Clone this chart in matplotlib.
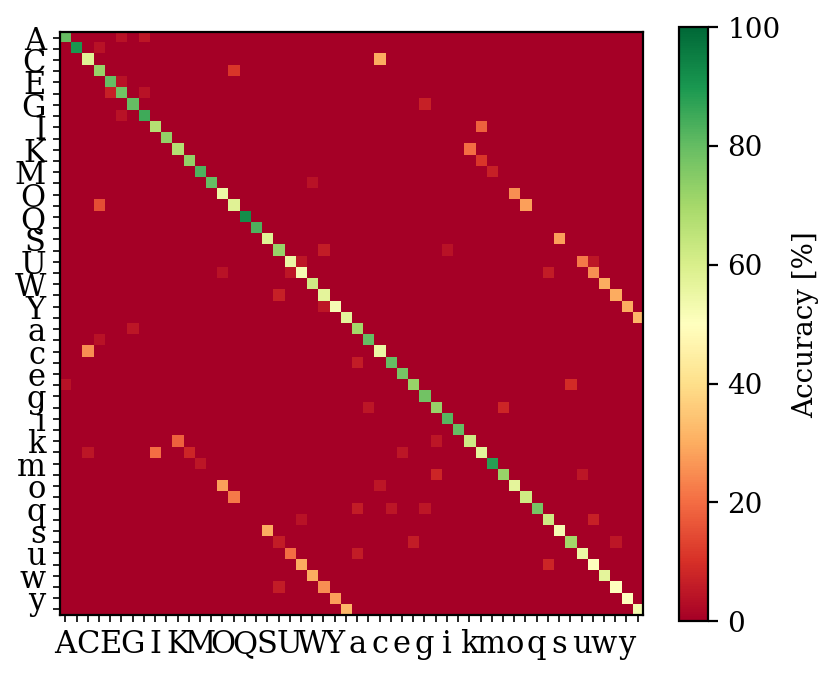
import string
import numpy as np
import matplotlib
matplotlib.use("Agg")
import matplotlib.pyplot as plt

plt.rcParams['font.family'] = 'DejaVu Serif'
plt.rcParams['font.size'] = 10

# class labels: A-Z then a-z
classes = list(string.ascii_uppercase) + list(string.ascii_lowercase)

# diagonal accuracy per class [%]
diag_upper = [80, 90, 58, 72, 80, 78, 80, 85, 67, 73, 67, 73, 83,
              80, 55, 58, 92, 83, 58, 72, 55, 52, 62, 57, 52, 57]
diag_lower = [70, 80, 55, 80, 77, 72, 78, 72, 82, 80, 62, 57, 88,
              72, 57, 62, 77, 62, 52, 70, 55, 50, 57, 50, 50, 53]

# notable confusions: (true row, predicted col, percent)
confusions = [
    (0, 5, 4), (0, 7, 5), (1, 3, 4), (2, 28, 30), (3, 15, 11),
    (4, 5, 4), (5, 4, 7), (5, 7, 4), (6, 32, 7), (7, 5, 4),
    (8, 37, 18), (10, 36, 20), (11, 37, 11), (12, 38, 7), (13, 22, 4),
    (14, 40, 25), (15, 41, 28), (15, 3, 15), (18, 44, 28), (19, 23, 6),
    (19, 34, 4), (20, 21, 5), (20, 46, 22), (20, 47, 5), (21, 20, 5),
    (21, 43, 6), (21, 47, 25), (21, 14, 4), (22, 48, 30), (23, 19, 7),
    (23, 49, 30), (24, 23, 5), (24, 50, 30), (25, 51, 32), (26, 6, 5),
    (27, 3, 4), (28, 2, 25), (29, 26, 6), (31, 0, 4), (31, 45, 9),
    (33, 27, 5), (33, 39, 8), (36, 10, 18), (36, 33, 5), (37, 8, 20),
    (37, 11, 8), (37, 2, 5), (37, 30, 5), (38, 12, 5), (39, 33, 8),
    (39, 46, 5), (40, 14, 28), (40, 28, 5), (41, 15, 22), (42, 26, 6),
    (42, 29, 5), (42, 32, 5), (43, 47, 7), (43, 21, 4), (44, 18, 30),
    (45, 19, 6), (45, 31, 6), (45, 49, 5), (46, 20, 20), (46, 26, 6),
    (47, 21, 30), (47, 43, 8), (48, 22, 30), (49, 23, 25), (49, 19, 6),
    (50, 24, 28), (51, 25, 32),
]

n = len(classes)
cm = np.zeros((n, n))
np.fill_diagonal(cm, diag_upper + diag_lower)
for r, c, v in confusions:
    cm[r, c] = v

fig = plt.figure(figsize=(4.15, 3.37), dpi=200)
ax = fig.add_axes([0.072, 0.0875, 0.703, 0.865])
im = ax.imshow(cm, cmap='RdYlGn', vmin=0, vmax=100, aspect='auto',
               interpolation='nearest')

ax.set_xticks(range(n))
ax.set_yticks(range(n))
ax.set_xticklabels([c if i % 2 == 0 else '' for i, c in enumerate(classes)])
ax.set_yticklabels([c if i % 2 == 0 else '' for i, c in enumerate(classes)])
ax.tick_params(length=2.5, width=0.6, pad=2.5, labelsize=11)

cax = fig.add_axes([0.818, 0.0786, 0.035, 0.881])
cb = fig.colorbar(im, cax=cax)
cb.set_ticks([0, 20, 40, 60, 80, 100])
cb.ax.tick_params(labelsize=10)
cb.set_label('Accuracy [%]', fontsize=10)

fig.savefig('out.png', dpi=200)
